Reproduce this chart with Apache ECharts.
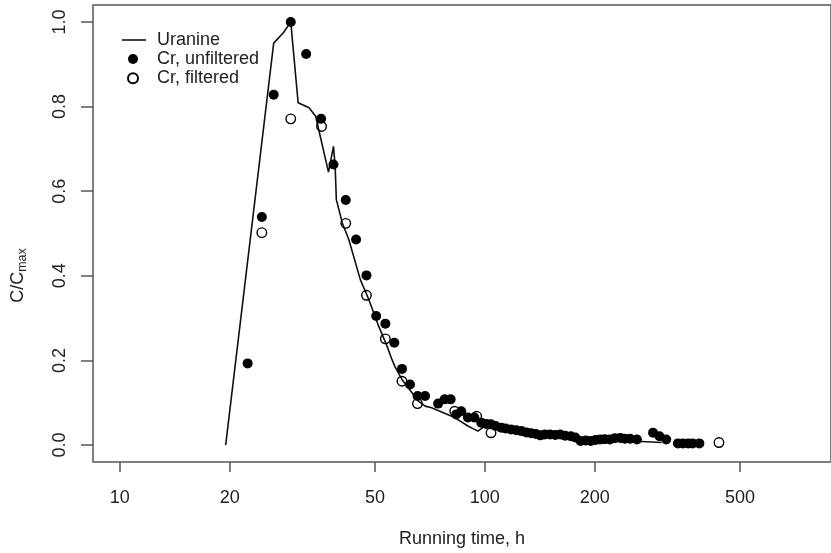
<!DOCTYPE html>
<html>
<head>
<meta charset="utf-8">
<script src="https://cdn.jsdelivr.net/npm/echarts@6/dist/echarts.min.js"></script>
<style>
html,body{margin:0;padding:0;background:#fff;}
#chart{width:831px;height:553px;}
</style>
</head>
<body>
<div id="chart"></div>
<script>
// ---- data ----
const uranineTime = [19.5, 26.4, 28.1, 29.4, 30.8, 33.0, 34.4, 37.3, 38.5, 38.9, 39.2, 40.7, 42.4, 45.6, 48.1, 51.2, 53.9, 55.5, 56.9, 59.3, 63.1, 65.8, 68.6, 71.5, 75.3, 82.7, 89.9, 95.7, 100, 115, 130, 150, 180, 220, 260, 305];
const uranineC    = [0, 0.950, 0.975, 1.0, 0.809, 0.797, 0.777, 0.645, 0.706, 0.659, 0.580, 0.525, 0.486, 0.391, 0.344, 0.281, 0.235, 0.205, 0.183, 0.155, 0.124, 0.104, 0.092, 0.088, 0.080, 0.065, 0.045, 0.033, 0.045, 0.035, 0.028, 0.022, 0.016, 0.012, 0.009, 0.006];

const unfilteredTime = [22.4, 24.5, 26.4, 29.4, 32.4, 35.6, 38.5, 41.6, 44.4, 47.4, 50.4, 53.4, 56.5, 59.3, 62.4, 65.4, 68.6, 74.5, 77.6, 80.6, 83.5, 86.2, 89.9, 93.6, 97.8, 101, 104, 107, 111, 114, 118, 122, 126, 130, 134, 138, 142, 146, 151, 156, 161, 166, 172, 177, 183, 189, 195, 201, 207, 213, 220, 227, 235, 242, 250, 261, 289, 301, 314, 338, 349, 361, 371, 387];
const unfilteredC    = [0.193, 0.539, 0.828, 1.0, 0.924, 0.771, 0.663, 0.579, 0.486, 0.401, 0.305, 0.287, 0.242, 0.180, 0.143, 0.116, 0.116, 0.098, 0.108, 0.108, 0.0725, 0.080, 0.065, 0.065, 0.053, 0.050, 0.049, 0.045, 0.041, 0.039, 0.037, 0.035, 0.033, 0.030, 0.028, 0.026, 0.023, 0.025, 0.025, 0.024, 0.025, 0.022, 0.021, 0.018, 0.0095, 0.011, 0.0095, 0.012, 0.013, 0.014, 0.013, 0.016, 0.017, 0.015, 0.015, 0.013, 0.029, 0.021, 0.013, 0.004, 0.004, 0.004, 0.004, 0.004];

const filteredTime = [24.5, 29.4, 35.7, 41.6, 47.4, 53.4, 59.3, 65.4, 82.7, 95.0, 104, 438];
const filteredC    = [0.502, 0.771, 0.753, 0.524, 0.354, 0.251, 0.151, 0.098, 0.080, 0.068, 0.029, 0.006];

const xTickLabels = [10, 20, 50, 100, 200, 500];
const yTickLabels = [0, 0.2, 0.4, 0.6, 0.8, 1.0];

const seriesNames = ['Uranine', 'Cr, unfiltered', 'Cr, filtered'];

// ---- chart ----
const FONT = '"Liberation Sans", Arial, Helvetica, sans-serif';
const FS = 18;
const zip = (a, b) => a.map((v, i) => [v, b[i]]);

const chart = echarts.init(document.getElementById('chart'), null, {renderer: 'canvas'});
chart.setOption({
  animation: false,
  backgroundColor: '#fff',
  textStyle: {fontFamily: FONT},
  grid: {left: 92, right: -5, top: 5, bottom: 91, show: true, borderColor: '#555', borderWidth: 1.5, backgroundColor: 'transparent'},
  legend: [
    {
      orient: 'vertical', left: 117, top: 26,
      itemWidth: 24, itemHeight: 1.6, icon: 'rect',
      textStyle: {fontFamily: FONT, fontSize: FS, lineHeight: 18, color: '#222', padding: [0, 0, 0, 6]},
      data: [seriesNames[0]]
    },
    {
      orient: 'vertical', left: 122, top: 45,
      itemWidth: 24, itemHeight: 10, itemGap: 1.3,
      textStyle: {fontFamily: FONT, fontSize: FS, lineHeight: 18, color: '#222', padding: [0, 0, 0, 7]},
      data: [seriesNames[1], seriesNames[2]]
    }
  ],
  xAxis: {
    type: 'log', logBase: 10, min: 8.445, max: 888,
    name: 'Running time, h', nameLocation: 'middle', nameGap: 68,
    nameTextStyle: {fontFamily: FONT, fontSize: FS, color: '#222'},
    axisLine: {show: false, onZero: false},
    axisTick: {show: true, inside: false, length: 10, customValues: xTickLabels, lineStyle: {color: '#555', width: 1.5}},
    axisLabel: {customValues: xTickLabels, margin: 27, fontSize: FS, color: '#222', fontFamily: FONT, formatter: v => String(Math.round(v))},
    splitLine: {show: false}, minorTick: {show: false}, minorSplitLine: {show: false}
  },
  yAxis: {
    type: 'value', min: -0.04, max: 1.04,
    name: '{b|C/C}{s|max}', nameLocation: 'middle', nameRotate: 90, nameGap: 64,
    nameTextStyle: {
      fontFamily: FONT, color: '#222', padding: [0, 84, 0, 0],
      rich: {
        b: {fontSize: FS, fontFamily: FONT, color: '#222', lineHeight: 22},
        s: {fontSize: 12.5, fontFamily: FONT, color: '#222', lineHeight: 22, verticalAlign: 'bottom', padding: [8, 0, 0, 0]}
      }
    },
    axisLine: {show: false, onZero: false},
    axisTick: {show: true, inside: false, length: 12, customValues: yTickLabels, lineStyle: {color: '#555', width: 1.5}},
    axisLabel: {customValues: yTickLabels, rotate: 90, margin: 24, fontSize: FS, color: '#222', fontFamily: FONT, formatter: v => v.toFixed(1)},
    splitLine: {show: false}
  },
  series: [
    {
      name: seriesNames[0], type: 'line', symbol: 'none', data: zip(uranineTime, uranineC),
      lineStyle: {color: '#111', width: 1.6}, itemStyle: {color: '#111'}, z: 2
    },
    {
      name: seriesNames[1], type: 'scatter', symbol: 'circle', symbolSize: 10, data: zip(unfilteredTime, unfilteredC),
      itemStyle: {color: '#000', opacity: 1}, z: 3
    },
    {
      name: seriesNames[2], type: 'scatter', symbol: 'circle', symbolSize: 9.5, data: zip(filteredTime, filteredC),
      itemStyle: {color: 'rgba(255,255,255,0)', borderColor: '#000', borderWidth: 1.4, opacity: 1}, z: 4
    }
  ]
});
</script>
</body>
</html>
